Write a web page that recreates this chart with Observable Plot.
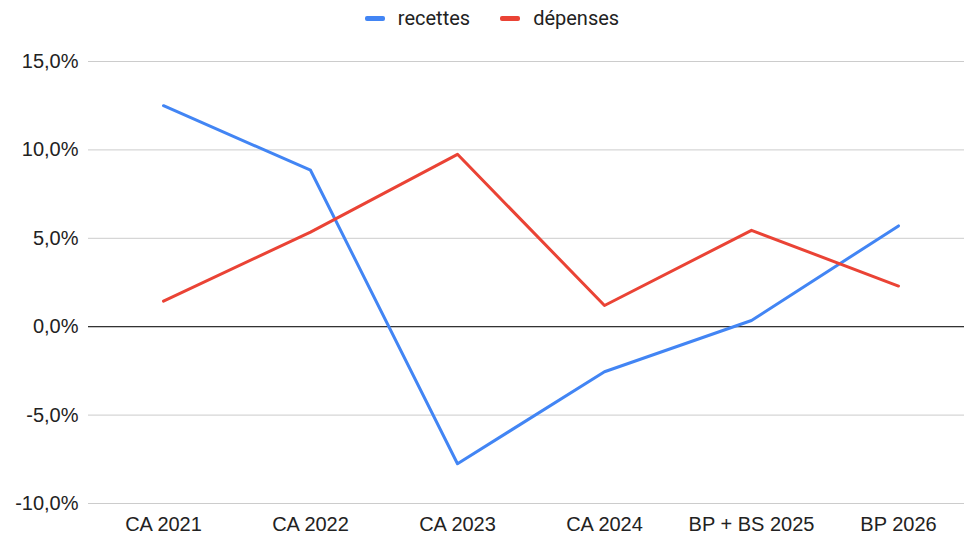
<!DOCTYPE html>
<html>
<head>
<meta charset="utf-8">
<script src="https://cdn.jsdelivr.net/npm/d3@7"></script>
<script src="https://cdn.jsdelivr.net/npm/@observablehq/plot@0.6"></script>
<style>
  html, body { margin: 0; padding: 0; background: #fff; }
  #legend { height: 36px; display: flex; justify-content: center; align-items: center; gap: 30px; font-family: Roboto, "Liberation Sans", Arial, sans-serif; font-size: 20px; color: #222; padding-left: 20px; box-sizing: border-box; }
  .item { display: flex; align-items: center; gap: 13px; }
  .sw { width: 20px; height: 5px; border-radius: 2px; display: inline-block; }
</style>
</head>
<body>
<div id="legend"></div>
<div id="chart"></div>
<script>
const categories = ["CA 2021", "CA 2022", "CA 2023", "CA 2024", "BP + BS 2025", "BP 2026"];
const recettes = [12.5, 8.85, -7.75, -2.55, 0.35, 5.7];
const depenses = [1.45, 5.35, 9.75, 1.2, 5.45, 2.3];
const seriesNames = ["recettes", "dépenses"];
const seriesColors = ["#4285F4", "#EA4335"];
const yTicks = [-10, -5, 0, 5, 10, 15];

const data = [];
categories.forEach((c, i) => {
  data.push({cat: c, value: recettes[i], series: seriesNames[0]});
  data.push({cat: c, value: depenses[i], series: seriesNames[1]});
});

const legend = document.getElementById("legend");
seriesNames.forEach((n, i) => {
  const it = document.createElement("div");
  it.className = "item";
  it.innerHTML = `<span class="sw" style="background:${seriesColors[i]}"></span><span>${n}</span>`;
  legend.appendChild(it);
});

const fmt = d => d.toFixed(1).replace(".", ",") + "%";

const chart = Plot.plot({
  width: 964,
  height: 497,
  marginTop: 25,
  marginBottom: 30,
  marginLeft: 88,
  marginRight: 0,
  style: {fontFamily: "'Liberation Sans', Arial, sans-serif", fontSize: "20px", color: "#222", background: "#fff", overflow: "visible"},
  x: {type: "point", domain: categories, range: [161, 899], padding: 0, label: null},
  y: {domain: [-10, 15], ticks: yTicks, label: null},
  color: {domain: seriesNames, range: seriesColors},
  marks: [
    Plot.gridY(yTicks, {stroke: "#cccccc", strokeOpacity: 1, strokeWidth: 1}),
    Plot.ruleY([0], {stroke: "#333", strokeWidth: 1.3}),
    Plot.axisY(yTicks, {tickSize: 0, tickPadding: 10, tickFormat: fmt, fontSize: 20}),
    Plot.axisX({tickSize: 0, tickPadding: 13, fontSize: 20}),
    Plot.line(data, {x: "cat", y: "value", z: "series", stroke: "series", strokeWidth: 3, strokeLinejoin: "round", strokeLinecap: "round"})
  ]
});
document.getElementById("chart").appendChild(chart);
</script>
</body>
</html>
